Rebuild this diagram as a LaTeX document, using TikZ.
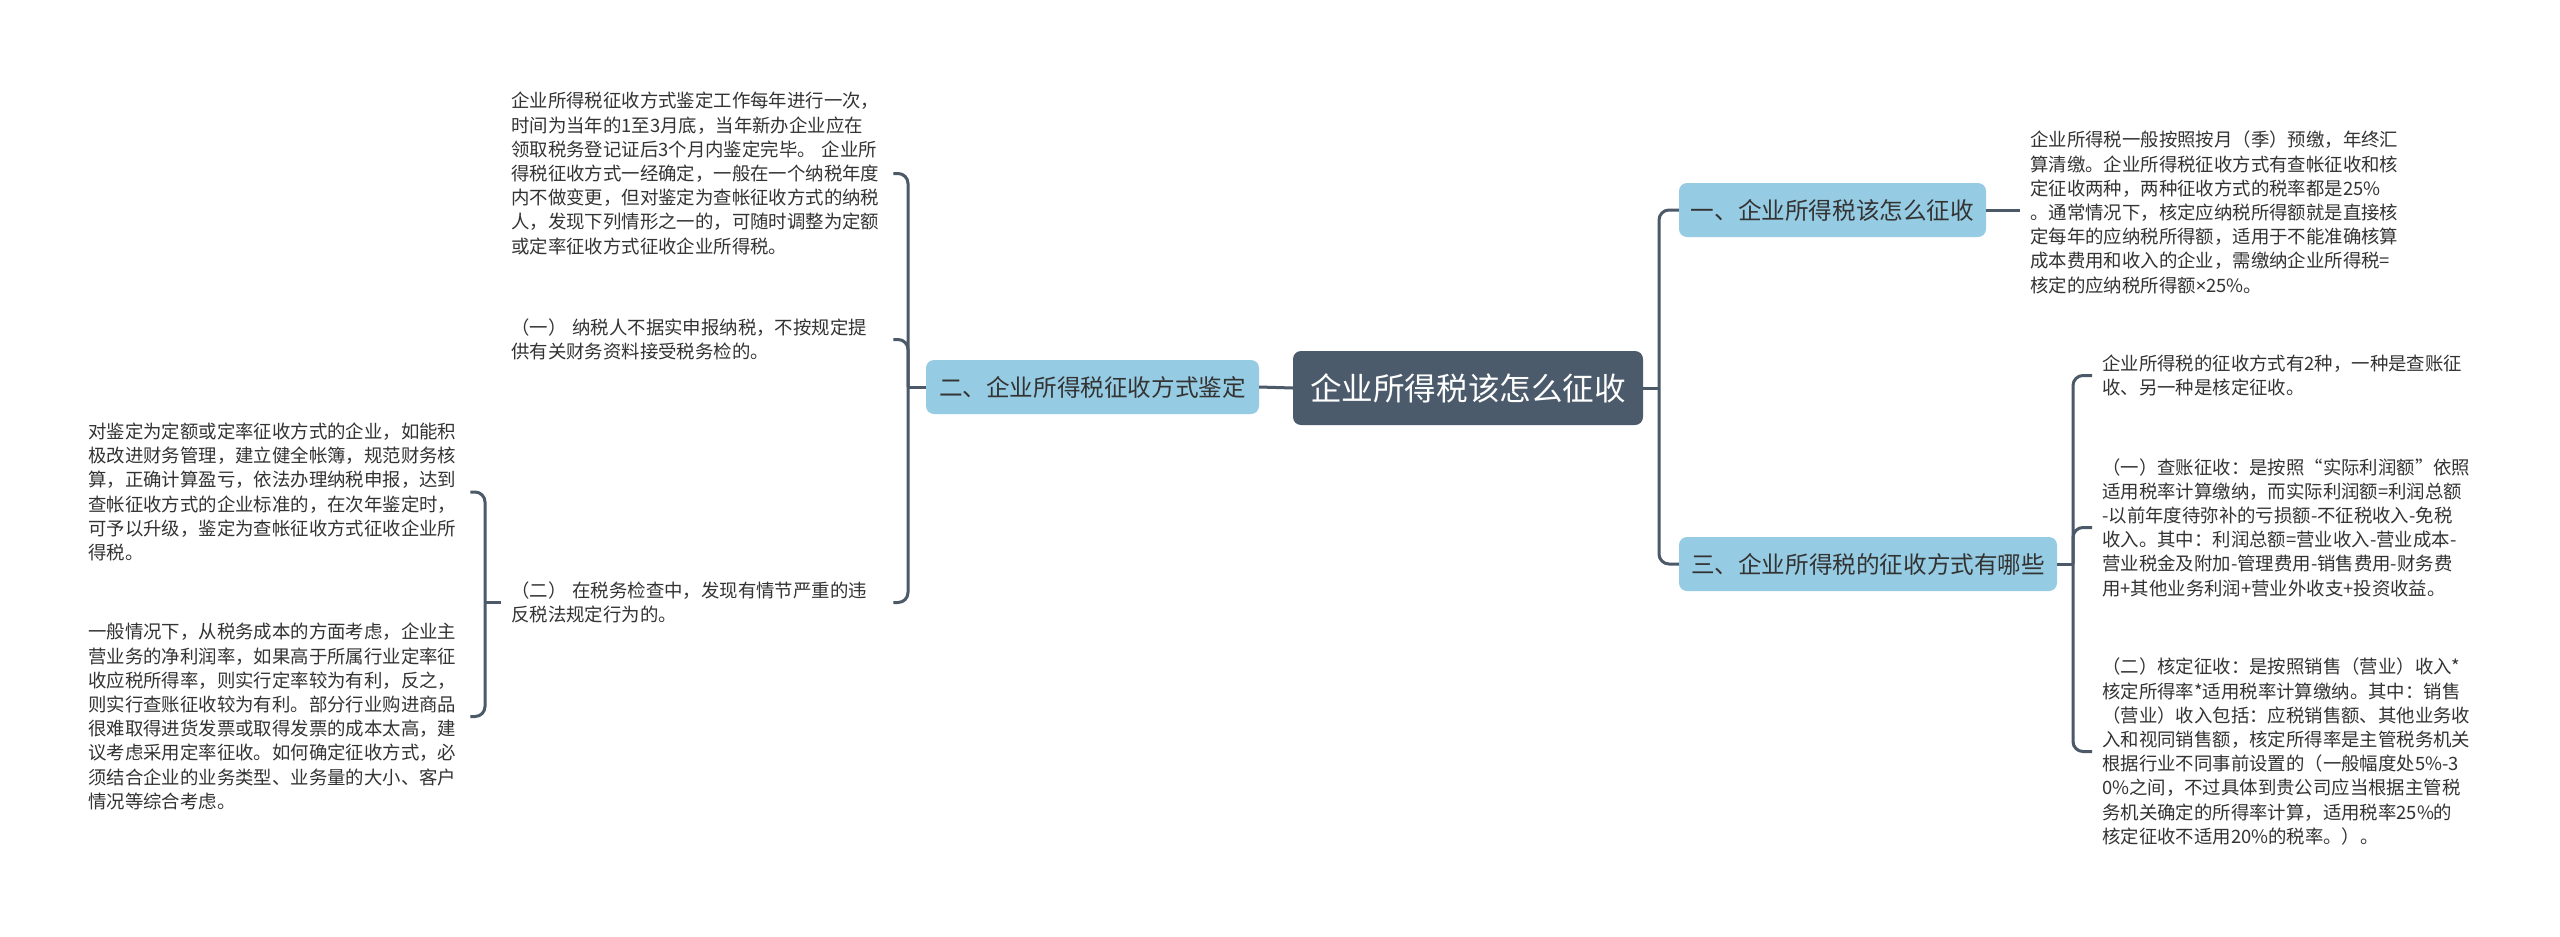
\documentclass[tikz,border=0pt]{standalone}
\usepackage{fontspec}
\setmainfont{Noto Sans CJK SC}
\newfontfamily\latinfont{Noto Sans}
\definecolor{connc}{HTML}{4B5968}
\definecolor{rootc}{HTML}{4B5B6B}
\definecolor{branchc}{HTML}{96CCE3}
\definecolor{txtc}{HTML}{333333}
\begin{document}
\begin{tikzpicture}[x=1pt,y=-1pt,
  rootnode/.style={fill=rootc, rounded corners=8, text=white, minimum width=350, minimum height=74, inner sep=0, font=\fontsize{31.6}{36}\selectfont},
  branchnode/.style={fill=branchc, rounded corners=8, text=txtc, minimum height=54, inner sep=0, font=\fontsize{23.6}{28}\selectfont},
  leaf/.style={anchor=west, inner xsep=10, inner ysep=0, text width=372, align=left, text=txtc, font=\fontsize{18.4}{24.2}\selectfont},
  conn/.style={draw=connc, line width=3},
  rc/.style={rounded corners=10}]
\fill[white] (0,0) rectangle (2560,937);
\useasboundingbox (0,0) rectangle (2560,937);

% main nodes
\node[rootnode] (root) at (1468,388) {企业所得税该怎么征收};
\node[branchnode, minimum width=333] (two) at (1092.5,387) {二、企业所得税征收方式鉴定};
\node[branchnode, minimum width=307] (one) at (1832.5,210) {一、企业所得税该怎么征收};
\node[branchnode, minimum width=378] (three) at (1868,564) {三、企业所得税的征收方式有哪些};

% left texts
\node[leaf] (t1) at (501,173.5) {企业所得税征收方式鉴定工作每年进行一次，\\时间为当年的1至3月底，当年新办企业应在\\领取税务登记证后3个月内鉴定完毕。 企业所\\得税征收方式一经确定，一般在一个纳税年度\\内不做变更，但对鉴定为查帐征收方式的纳税\\人，发现下列情形之一的，可随时调整为定额\\或定率征收方式征收企业所得税。};
\node[leaf] (tA1) at (501,339.5) {（一） 纳税人不据实申报纳税，不按规定提\\供有关财务资料接受税务检的。};
\node[leaf] (tA2) at (501,602.5) {（二） 在税务检查中，发现有情节严重的违\\反税法规定行为的。};
\node[leaf] (tL1) at (78,492) {对鉴定为定额或定率征收方式的企业，如能积\\极改进财务管理，建立健全帐簿，规范财务核\\算，正确计算盈亏，依法办理纳税申报，达到\\查帐征收方式的企业标准的，在次年鉴定时，\\可予以升级，鉴定为查帐征收方式征收企业所\\得税。};
\node[leaf] (tL2) at (78,716.5) {一般情况下，从税务成本的方面考虑，企业主\\营业务的净利润率，如果高于所属行业定率征\\收应税所得率，则实行定率较为有利，反之，\\则实行查账征收较为有利。部分行业购进商品\\很难取得进货发票或取得发票的成本太高，建\\议考虑采用定率征收。如何确定征收方式，必\\须结合企业的业务类型、业务量的大小、客户\\情况等综合考虑。};

% right texts
\node[leaf] (r1) at (2020,212.5) {企业所得税一般按照按月（季）预缴，年终汇\\算清缴。企业所得税征收方式有查帐征收和核\\定征收两种，两种征收方式的税率都是25\%\\。通常情况下，核定应纳税所得额就是直接核\\定每年的应纳税所得额，适用于不能准确核算\\成本费用和收入的企业，需缴纳企业所得税=\\核定的应纳税所得额{\latinfont ×}25\%。};
\node[leaf] (r2) at (2092,375.5) {企业所得税的征收方式有2种，一种是查账征\\收、另一种是核定征收。};
\node[leaf] (r3) at (2092,527.5) {（一）查账征收：是按照“实际利润额”依照\\适用税率计算缴纳，而实际利润额=利润总额\\-以前年度待弥补的亏损额-不征税收入-免税\\收入。其中：利润总额=营业收入-营业成本-\\营业税金及附加-管理费用-销售费用-财务费\\用+其他业务利润+营业外收支+投资收益。};
\node[leaf] (r4) at (2092,751.5) {（二）核定征收：是按照销售（营业）收入*\\核定所得率*适用税率计算缴纳。其中：销售\\（营业）收入包括：应税销售额、其他业务收\\入和视同销售额，核定所得率是主管税务机关\\根据行业不同事前设置的（一般幅度处5\%-3\\0\%之间，不过具体到贵公司应当根据主管税\\务机关确定的所得率计算，适用税率25\%的\\核定征收不适用20\%的税率。）。};

% junctions
\coordinate (jR) at (1659,388);
\coordinate (jM) at (908,387);
\coordinate (jL) at (485,602.5);
\coordinate (jRR) at (2073,564);

% connectors
\draw[conn] (root.east) -- (jR);
\draw[conn, rc] (one.west) -| (jR) |- (three.west);
\draw[conn] (root.west) -- (two.east);
\draw[conn] (two.west) -- (jM);
\draw[conn, rc] (t1.east) -| (jM) |- (tA2.east);
\draw[conn, rc] (tA1.east) -| (jM);
\draw[conn] (tA2.west) -- (jL);
\draw[conn, rc] (tL1.east) -| (jL) |- (tL2.east);
\draw[conn] (one.east) -- (one.east -| r1.west);
\draw[conn] (three.east) -- (jRR);
\draw[conn, rc] (r2.west) -| (jRR) |- (r4.west);
\draw[conn, rc] (r3.west) -| (jRR);
\end{tikzpicture}
\end{document}
